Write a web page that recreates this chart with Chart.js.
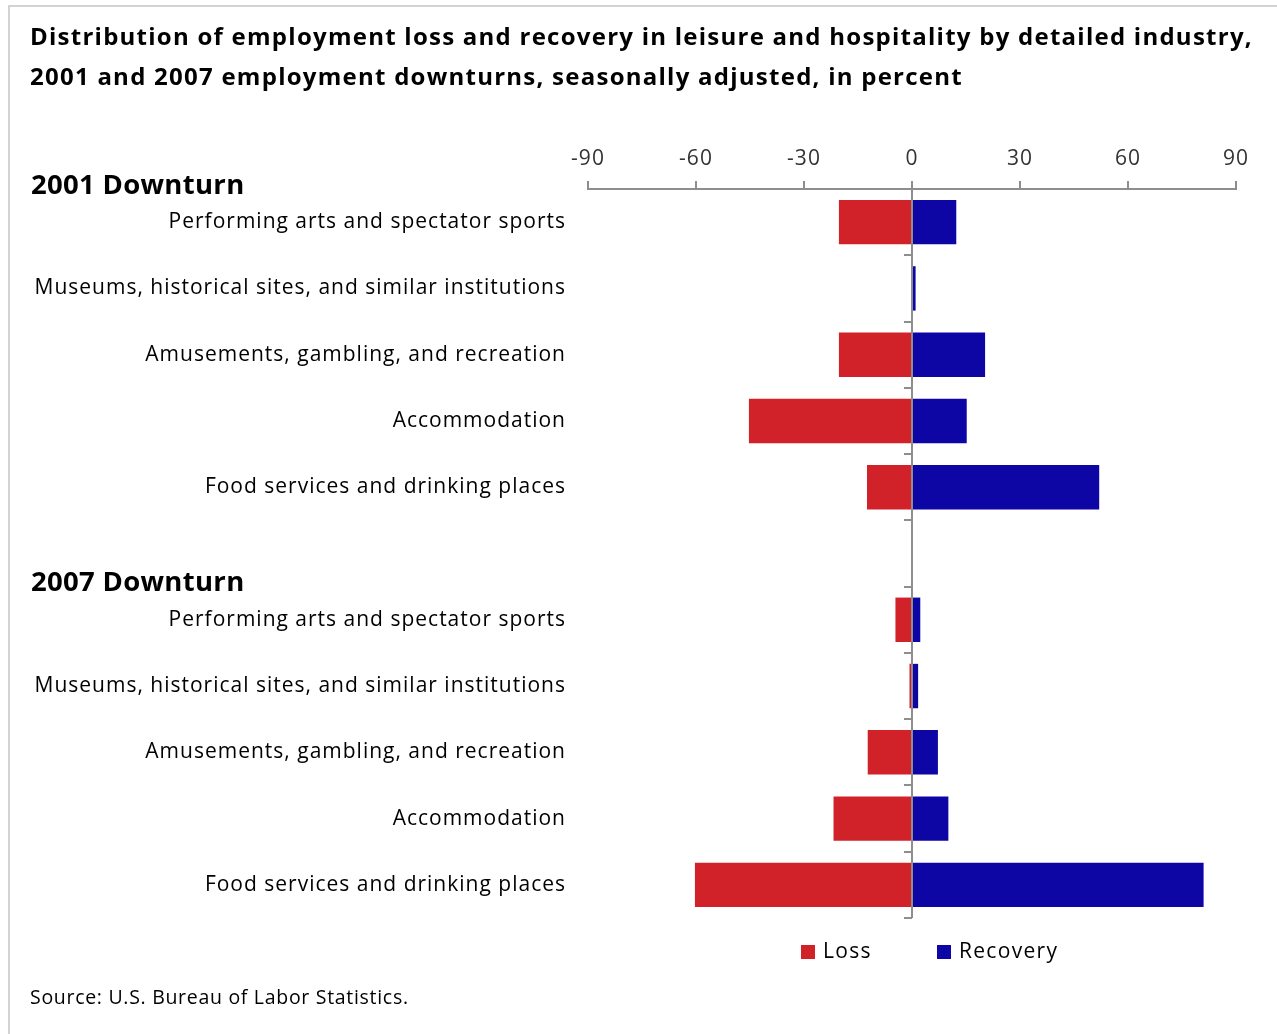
<!DOCTYPE html>
<html>
<head>
<meta charset="utf-8">
<script src="https://cdn.jsdelivr.net/npm/chart.js@4.4.0/dist/chart.umd.min.js"></script>
<style>
  html, body { margin: 0; padding: 0; background: #fff; }
</style>
</head>
<body>
<canvas id="chart" width="1277" height="1034"></canvas>
<script>
const industries = [
    'Performing arts and spectator sports',
    'Museums, historical sites, and similar institutions',
    'Amusements, gambling, and recreation',
    'Accommodation',
    'Food services and drinking places'
];
const groupTitles = ['2001 Downturn', '2007 Downturn'];
const loss2001 = [-20.3, 0, -20.3, -45.3, -12.5];
const recovery2001 = [12.3, 1.0, 20.3, 15.2, 52.0];
const loss2007 = [-4.6, -0.7, -12.3, -21.8, -60.3];
const recovery2007 = [2.3, 1.7, 7.2, 10.1, 81.0];
const xTicks = [-90, -60, -30, 0, 30, 60, 90];
const titleLines = [
    'Distribution of employment loss and recovery in leisure and hospitality by detailed industry,',
    '2001 and 2007 employment downturns, seasonally adjusted, in percent'
];
const sourceNote = 'Source: U.S. Bureau of Labor Statistics.';

const RED = '#d1222a';
const BLUE = '#0e05a5';
const AXIS = '#8e8e8e';
const FONT = '"Open Sans", Lato, sans-serif';

// one blank row between the two downturns
const labels = industries.concat([''], industries);
const lossData = loss2001.concat([null], loss2007);
const recoveryData = recovery2001.concat([null], recovery2007);

const decor = {
    id: 'decor',
    beforeDraw(chart) {
        const c = chart.ctx;
        c.fillStyle = '#fff';
        c.fillRect(0, 0, chart.width, chart.height);
        c.fillStyle = '#d3d3d3';
        c.fillRect(8, 5, 2, chart.height - 5);
        c.fillRect(8, 5, chart.width - 8, 2);
        // the original text is loosely spaced
        c.letterSpacing = '1px';
    },
    afterDraw(chart) {
        const c = chart.ctx;
        const y = chart.scales.y;
        const x = chart.scales.x;
        const area = chart.chartArea;
        const step = (area.bottom - area.top) / labels.length;
        c.save();

        // title
        c.fillStyle = '#000';
        c.textBaseline = 'middle';
        c.textAlign = 'left';
        c.font = 'bold 24px ' + FONT;
        c.letterSpacing = '1.25px';
        titleLines.forEach((t, i) => c.fillText(t, 30, 38 + i * 40));

        // group headings
        c.font = 'bold 27.5px ' + FONT;
        c.letterSpacing = '0.3px';
        groupTitles.forEach((t, i) => {
            const top = y.getPixelForValue(i * 6) - step / 2;
            c.fillText(t, 31, top - 3);
        });

        // short ticks on the zero line between rows
        const x0 = x.getPixelForValue(0);
        c.strokeStyle = AXIS;
        c.lineWidth = 2;
        for (let k = 1; k <= labels.length; k++) {
            const yy = Math.round(area.top + k * step);
            c.beginPath();
            c.moveTo(x0 - 8, yy);
            c.lineTo(x0, yy);
            c.stroke();
        }

        // legend
        c.font = '21px ' + FONT;
        c.letterSpacing = '1.3px';
        const legendX = [801, 937];
        chart.data.datasets.forEach((ds, i) => {
            c.fillStyle = ds.backgroundColor;
            c.fillRect(legendX[i], 945, 14, 14);
            c.fillStyle = '#000';
            c.fillText(ds.label, legendX[i] + 22, 952);
        });

        // source
        c.font = '19.5px ' + FONT;
        c.letterSpacing = '0.7px';
        c.fillText(sourceNote, 30, 998);
        c.restore();
        c.letterSpacing = '0px';
    }
};

new Chart(document.getElementById('chart'), {
    type: 'bar',
    data: {
        labels: labels,
        datasets: [
            { label: 'Loss', data: lossData, backgroundColor: RED, barPercentage: 0.67, categoryPercentage: 1 },
            { label: 'Recovery', data: recoveryData, backgroundColor: BLUE, barPercentage: 0.67, categoryPercentage: 1 }
        ]
    },
    options: {
        indexAxis: 'y',
        responsive: false,
        animation: false,
        layout: { padding: { left: 10, right: 41, top: 133, bottom: 116 } },
        plugins: {
            legend: { display: false },
            tooltip: { enabled: false },
            title: { display: false }
        },
        scales: {
            x: {
                position: 'top',
                stacked: true,
                min: -90,
                max: 90,
                afterBuildTicks: (scale) => { scale.ticks = xTicks.map(v => ({ value: v })); },
                afterFit: (scale) => { scale.height = 56; },
                ticks: { color: '#333', font: { family: FONT, size: 21 }, padding: 9 },
                grid: {
                    drawOnChartArea: true,
                    color: (ctx) => (ctx.tick && ctx.tick.value === 0 ? AXIS : 'rgba(0,0,0,0)'),
                    tickColor: AXIS,
                    tickLength: 8,
                    lineWidth: 2
                },
                border: { color: AXIS, width: 2 }
            },
            y: {
                stacked: true,
                afterFit: (scale) => { scale.width = 578; },
                grid: { display: false, drawTicks: false },
                border: { display: false },
                ticks: { color: '#000', font: { family: FONT, size: 21 }, padding: 22, autoSkip: false }
            }
        }
    },
    plugins: [decor]
});
</script>
</body>
</html>
